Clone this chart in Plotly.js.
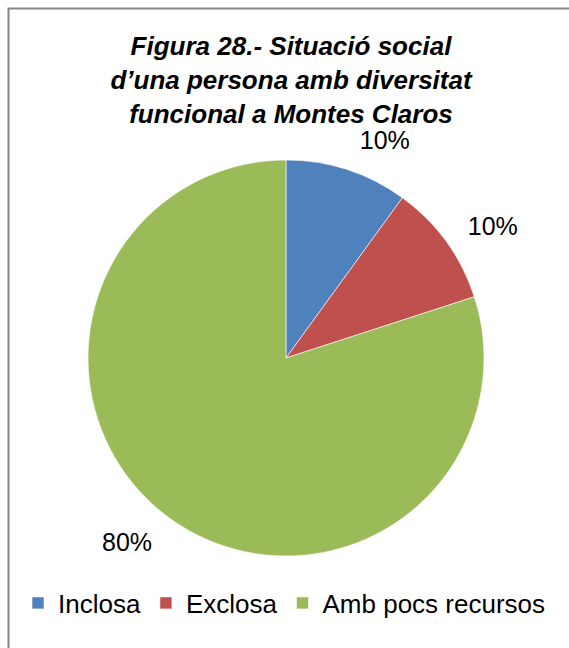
<!DOCTYPE html>
<html><head><meta charset="utf-8">
<script src="https://cdn.plot.ly/plotly-3.0.1.min.js"></script>
<style>html,body{margin:0;padding:0;background:#fff;}#chart{width:569px;height:648px;}</style>
</head><body><div id="chart"></div>
<script>
const categories = ["Inclosa", "Exclosa", "Amb pocs recursos"];
const values = [10, 10, 80];
const colors = ["#4F81BD", "#C0504D", "#9BBB59"];
const titleText = "Figura 28.- Situació social<br>d’una persona amb diversitat<br>funcional a Montes Claros";

const W = 569, H = 648;
const cx = 286, cy = 358, R = 198, RL = 216;
const dom = r => ({x: [(cx - r) / W, (cx + r) / W], y: [1 - (cy + r) / H, 1 - (cy - r) / H]});

const pieTrace = {
  type: "pie",
  labels: categories,
  values: values,
  sort: false,
  direction: "clockwise",
  rotation: 0,
  marker: {colors: colors, line: {color: "#ffffff", width: 0.6}},
  textinfo: "none",
  automargin: false,
  domain: dom(R),
  hoverinfo: "none"
};

// transparent companion pie that only carries the outside percentage labels
const labelTrace = {
  type: "pie",
  labels: categories,
  values: values,
  sort: false,
  direction: "clockwise",
  rotation: 0,
  showlegend: false,
  marker: {colors: ["rgba(0,0,0,0)", "rgba(0,0,0,0)", "rgba(0,0,0,0)"], line: {width: 0}},
  textinfo: "percent",
  texttemplate: "%{percent:.0%}",
  textposition: "outside",
  outsidetextfont: {family: "Liberation Sans, Arial, sans-serif", size: 25, color: "#000"},
  automargin: false,
  domain: dom(RL),
  hoverinfo: "none"
};

const layout = {
  width: W, height: H,
  margin: {l: 0, r: 0, t: 0, b: 0},
  paper_bgcolor: "#fff",
  font: {family: "Liberation Sans, Arial, sans-serif", color: "#000"},
  title: {
    text: titleText,
    font: {family: "Liberation Sans, Arial, sans-serif", size: 26, weight: "bold", style: "italic", color: "#000"},
    x: 291 / W, xanchor: "center",
    y: 1 - 55 / H, yanchor: "top", yref: "paper"
  },
  showlegend: true,
  legend: {
    orientation: "h", x: 0.5, xanchor: "center", y: 1 - 603 / H, yanchor: "middle",
    font: {family: "Liberation Sans, Arial, sans-serif", size: 26, color: "#000"},
    itemwidth: 30, tracegroupgap: 0
  },
  shapes: [{
    type: "rect", xref: "paper", yref: "paper",
    x0: 8.5 / W, x1: 1.02, y0: -0.02, y1: 1 - 8.5 / H,
    line: {color: "#868686", width: 2}, fillcolor: "rgba(0,0,0,0)", layer: "above"
  }]
};

Plotly.newPlot("chart", [pieTrace, labelTrace], layout, {staticPlot: true, displayModeBar: false});
</script></body></html>
